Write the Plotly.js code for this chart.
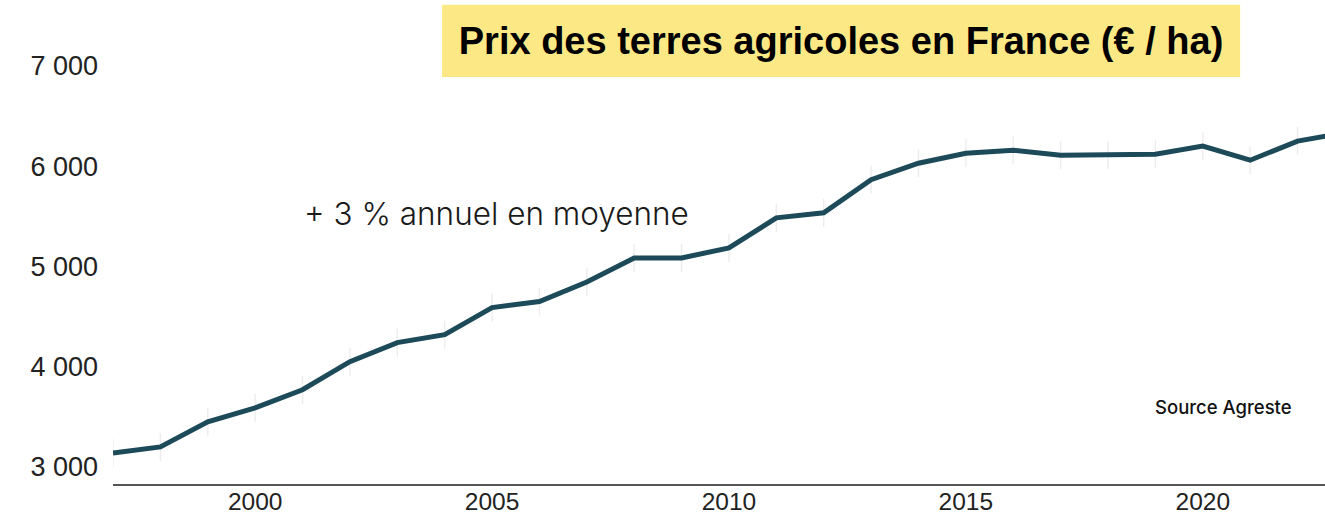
<!DOCTYPE html>
<html>
<head>
<meta charset="utf-8">
<script src="https://cdn.plot.ly/plotly-3.0.1.min.js"></script>
<style>
html,body{margin:0;padding:0;background:#fff;}
#chart{width:1325px;height:517px;}
</style>
</head>
<body>
<div id="chart"></div>
<script>
// Data
const years = [1997,1998,1999,2000,2001,2002,2003,2004,2005,2006,2007,2008,2009,2010,2011,2012,2013,2014,2015,2016,2017,2018,2019,2020,2021,2022,2023];
const prices = [3140,3200,3450,3590,3770,4050,4240,4320,4590,4650,4845,5085,5085,5185,5485,5535,5865,6030,6130,6160,6110,6110,6120,6200,6060,6250,6335];
const yTickVals = [3000,4000,5000,6000,7000];
const yTickText = ["3 000","4 000","5 000","6 000","7 000"];
const xTickVals = [2000,2005,2010,2015,2020];
const xTickText = ["2000","2005","2010","2015","2020"];

const titleText = "Prix des terres agricoles en France (€ / ha)";
const noteText = "+ 3 % annuel en moyenne";
const sourceText = "Source Agreste";

const traces = [
  {
    x: years, y: prices, type: 'scatter', mode: 'markers',
    marker: {symbol: 'line-ns-open', size: 20, color: 'rgba(0,0,0,0.07)', line: {color: 'rgba(0,0,0,0.07)', width: 1.5}},
    hoverinfo: 'skip', showlegend: false
  },
  {
    x: years, y: prices, type: 'scatter', mode: 'lines',
    line: {color: '#1c4a59', width: 5},
    showlegend: false
  }
];

const layout = {
  width: 1325, height: 517,
  margin: {l: 113, r: 0, t: 0, b: 33},
  paper_bgcolor: '#ffffff', plot_bgcolor: '#ffffff',
  showlegend: false,
  title: {
    text: titleText,
    x: 0.6007, xanchor: 'center', xref: 'paper',
    y: 0.922, yanchor: 'middle', yref: 'container',
    font: {family: 'Liberation Sans, Arial, sans-serif', size: 38, color: '#000', weight: 700}
  },
  xaxis: {
    range: [1997, 2022.58],
    tickvals: xTickVals, ticktext: xTickText,
    showgrid: false, zeroline: false,
    showline: true, linecolor: '#555555', linewidth: 2,
    ticks: '', ticklabelstandoff: -5,
    tickfont: {family: 'Liberation Sans, Arial, sans-serif', size: 24.5, color: '#222222'}
  },
  yaxis: {
    range: [2830, 7658],
    tickvals: yTickVals, ticktext: yTickText,
    showgrid: false, zeroline: false, showline: false,
    ticks: '', ticklabelstandoff: 14,
    tickfont: {family: 'Liberation Sans, Arial, sans-serif', size: 27, color: '#222222'}
  },
  shapes: [
    {type: 'rect', xref: 'paper', yref: 'paper', layer: 'below',
     x0: 0.2715, x1: 0.930, y0: 0.841, y1: 0.990,
     fillcolor: '#fce985', line: {width: 0}}
  ],
  annotations: [
    {text: noteText, xref: 'paper', yref: 'paper', x: (302-113)/1212, y: 1-213/484,
     xanchor: 'left', yanchor: 'middle', showarrow: false,
     font: {family: 'Inter, Lato, sans-serif', size: 31.5, color: '#1a1a1a', weight: 300}},
    {text: sourceText, xref: 'paper', yref: 'paper', x: (1223-113)/1212, y: 1-407/484,
     xanchor: 'center', yanchor: 'middle', showarrow: false,
     font: {family: 'Inter, Roboto, sans-serif', size: 18.5, color: '#111111', weight: 500}}
  ]
};

Plotly.newPlot('chart', traces, layout, {displayModeBar: false, staticPlot: true});
</script>
</body>
</html>
